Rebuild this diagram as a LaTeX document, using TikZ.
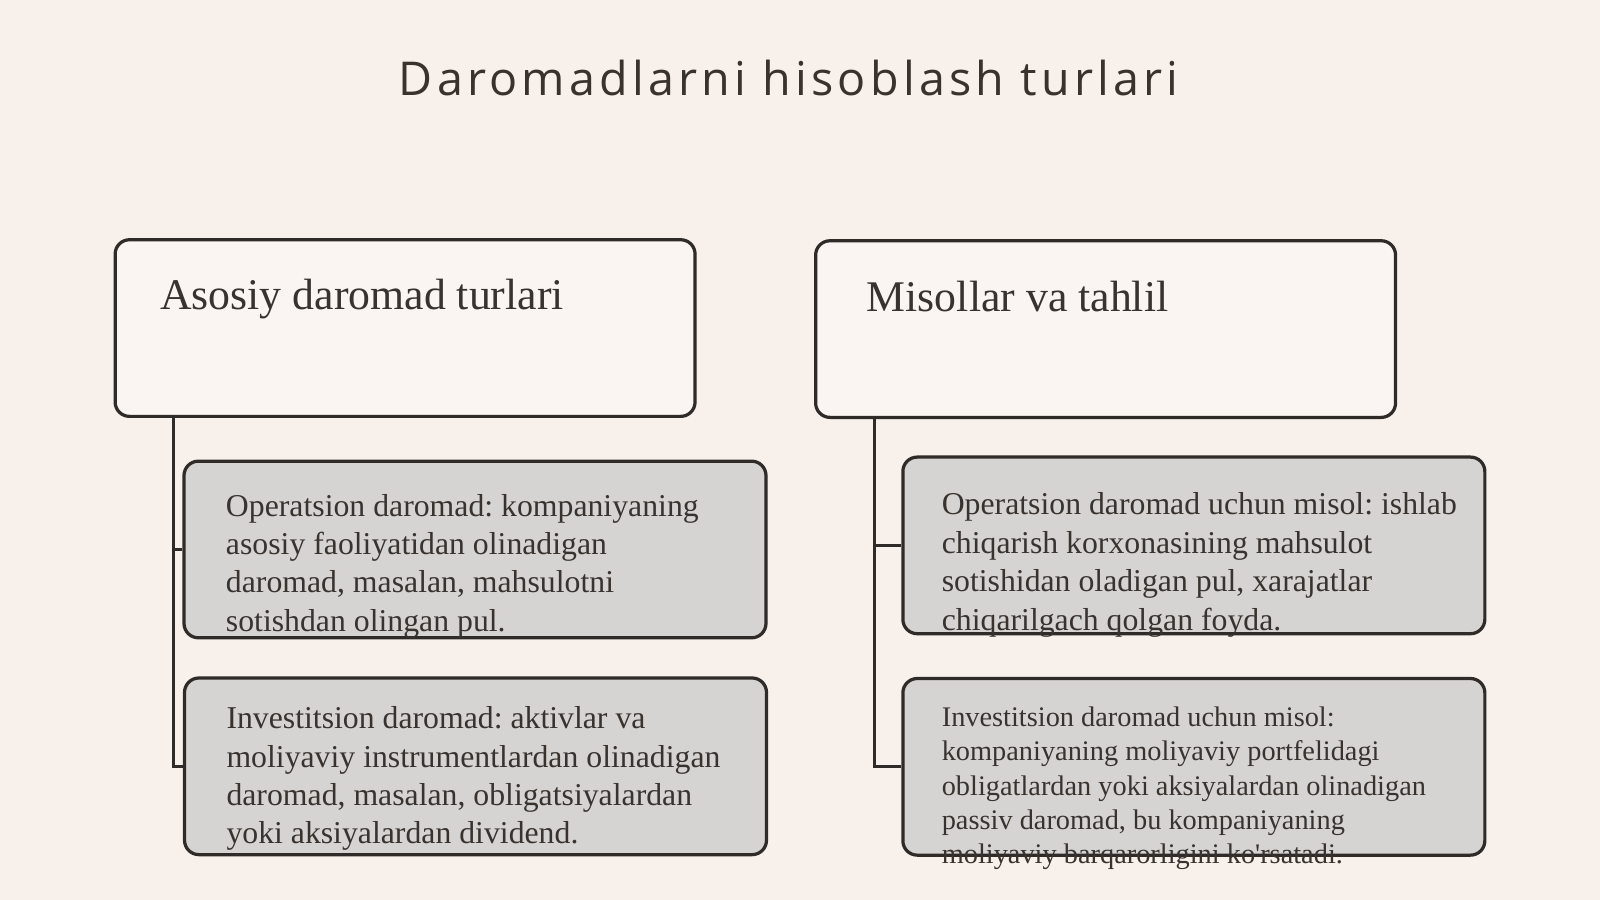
\documentclass[tikz,border=0pt]{standalone}
\usepackage{fontspec}
\setmainfont{Liberation Serif}
\newfontfamily\titlefont[LetterSpace=9]{Open Sans}
\usepackage{tikz}
\usetikzlibrary{positioning}
\definecolor{bgcol}{HTML}{F7F0EB}
\definecolor{hdrfill}{HTML}{FAF5F2}
\definecolor{itemfill}{HTML}{D6D4D2}
\definecolor{inkcol}{HTML}{2F2B29}
\definecolor{txtcol}{HTML}{38332F}
\frenchspacing

\tikzset{
  hdrbox/.style={draw=inkcol, line width=0.9pt, rounded corners=4pt, fill=hdrfill,
    minimum width=5.68cm, minimum height=1.73cm, inner sep=0pt},
  itembox/.style={draw=inkcol, line width=0.9pt, rounded corners=4pt, fill=itemfill,
    minimum width=5.70cm, minimum height=1.73cm, inner sep=0pt},
  hdrtext/.style={anchor=north west, inner sep=0pt, text=txtcol,
    font=\fontsize{12.2}{14}\selectfont},
  itemtext/.style={anchor=north west, inner sep=0pt, align=left, text=txtcol,
    font=\fontsize{8.85}{10.7}\selectfont},
  smalltext/.style={itemtext, font=\fontsize{7.9}{9.5}\selectfont},
  link/.style={draw=inkcol, line width=0.9pt}
}

\begin{document}
\begin{tikzpicture}[x=0.01cm, y=-0.01cm]
%%%%% Background %%%%%
\fill[bgcol] (0,0) rectangle (1568,882);
\useasboundingbox (0,0) rectangle (1568,882);
\node[text=txtcol, font=\titlefont\fontsize{13}{15}\selectfont] (title) at (773,76) {Daromadlarni hisoblash turlari};

%%%%% Left column %%%%%
\node[hdrbox] (hdrL) at (397,321.5) {};
\node[hdrtext] (hdrLtxt) at ([shift={(0.45cm,-0.39cm)}]hdrL.north west) {Asosiy daromad turlari};
\node[itembox] (opL) at (465.5,538.5) {};
\node[itemtext] (opLtxt) at ([shift={(0.42cm,-0.33cm)}]opL.north west) {Operatsion daromad: kompaniyaning\\asosiy faoliyatidan olinadigan\\daromad, masalan, mahsulotni\\sotishdan olingan pul.};
\node[itembox] (invL) at (466,751) {};
\node[itemtext] (invLtxt) at ([shift={(0.42cm,-0.29cm)}]invL.north west) {Investitsion daromad: aktivlar va\\moliyaviy instrumentlardan olinadigan\\daromad, masalan, obligatsiyalardan\\yoki aksiyalardan dividend.};
\draw[link] ([xshift=0.59cm]hdrL.south west) |- (opL.west);
\draw[link] ([xshift=0.59cm]hdrL.south west) |- (invL.west);

%%%%% Right column %%%%%
\node[hdrbox] (hdrR) at (1083.5,322.5) {};
\node[hdrtext] (hdrRtxt) at ([shift={(0.51cm,-0.40cm)}]hdrR.north west) {Misollar va tahlil};
\node[itembox] (opR) at (1170,534.5) {};
\node[itemtext] (opRtxt) at ([shift={(0.39cm,-0.36cm)}]opR.north west) {Operatsion daromad uchun misol: ishlab\\chiqarish korxonasining mahsulot\\sotishidan oladigan pul, xarajatlar\\chiqarilgach qolgan foyda.};
\node[itembox] (invR) at (1170,751.5) {};
\node[smalltext] (invRtxt) at ([shift={(0.39cm,-0.29cm)}]invR.north west) {Investitsion daromad uchun misol:\\kompaniyaning moliyaviy portfelidagi\\obligatlardan yoki aksiyalardan olinadigan\\passiv daromad, bu kompaniyaning\\moliyaviy barqarorligini ko\textquotesingle rsatadi.};
\draw[link] ([xshift=0.59cm]hdrR.south west) |- (opR.west);
\draw[link] ([xshift=0.59cm]hdrR.south west) |- (invR.west);
\end{tikzpicture}
\end{document}
